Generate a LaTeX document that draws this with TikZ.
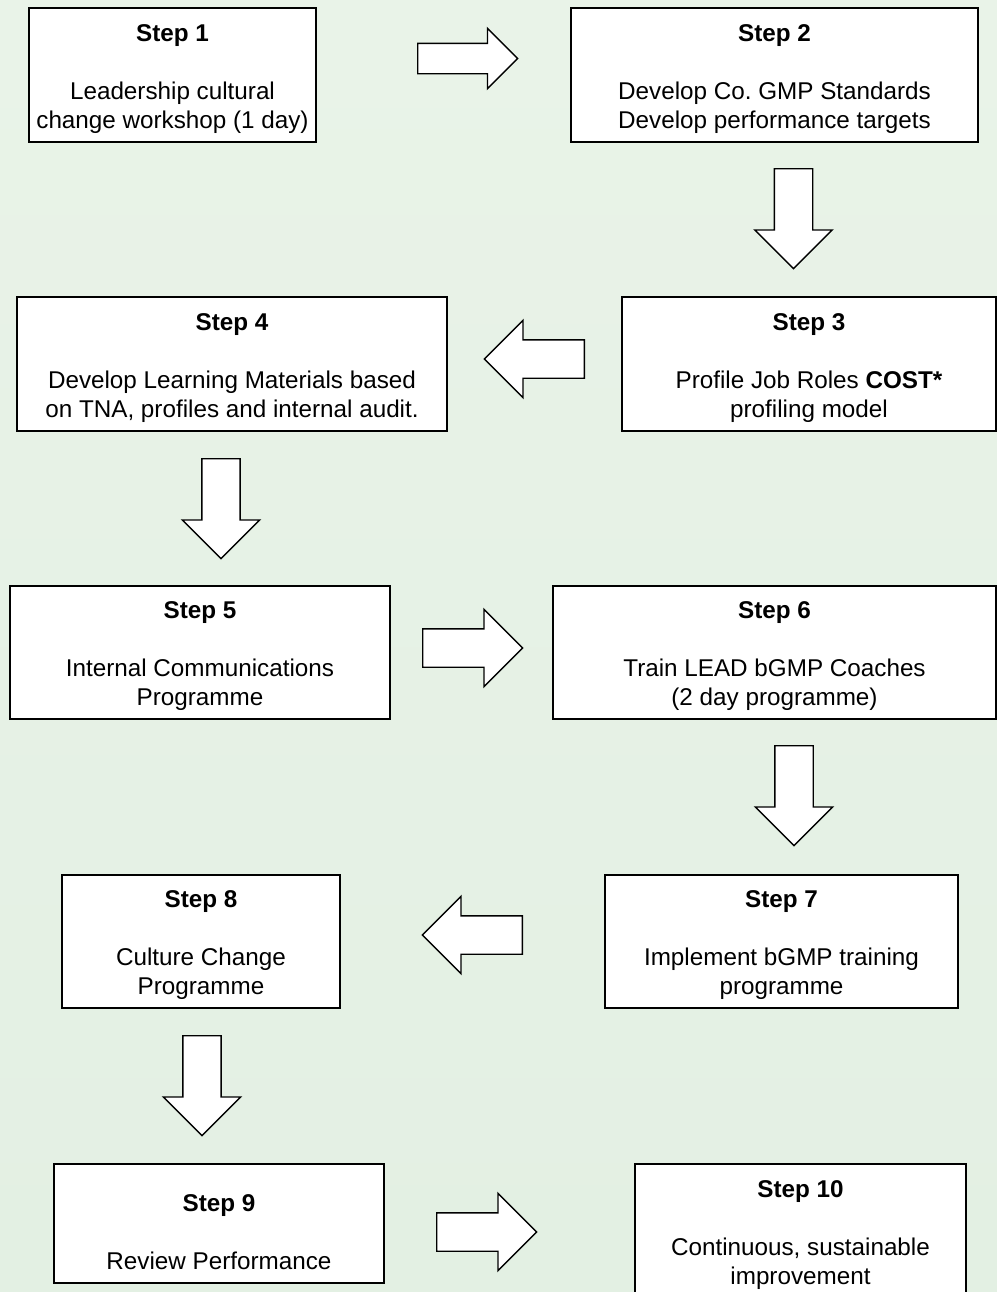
\documentclass[tikz,border=0pt]{standalone}
\usepackage{fontspec}
\setmainfont{Liberation Sans}
\frenchspacing
\usetikzlibrary{shapes.arrows}
\definecolor{bgtop}{HTML}{E9F3E8}
\definecolor{bgmid}{HTML}{CBE4CB}
\definecolor{bgbot}{HTML}{E3F0E3}
\newcommand{\steptitle}[2][14pt]{\rule{0pt}{#1}\textbf{Step #2}\\[16.5pt]}
\tikzset{
  stepbox/.style={draw, line width=1.1pt, fill=white, align=center, inner sep=0pt,
    minimum height=2.68cm, font=\fontsize{13.8}{16.5}\selectfont},
  blockarrow/.style={single arrow, draw, line width=0.8pt, fill=white, inner xsep=0pt,
    inner ysep=0.37cm, minimum width=1.52cm, minimum height=2cm,
    single arrow head extend=0.39cm, single arrow head indent=0pt, anchor=tail}
}
\begin{document}
\begin{tikzpicture}[x=0.02cm, y=-0.02cm]
\useasboundingbox (0,0) rectangle (997,1292);
\clip (0,0) rectangle (997,1292);
\shade[top color=bgtop, middle color=bgmid, bottom color=bgbot] (0,0) rectangle (997,1292);
\node[stepbox, minimum width=5.74cm] (s1) at (172.5,75) {\steptitle{1}Leadership cultural\\change workshop (1 day)};
\node[stepbox, minimum width=8.14cm] (s2) at (774.5,75) {\steptitle{2}Develop Co. GMP Standards\\Develop performance targets};
\node[stepbox, minimum width=7.48cm] (s3) at (809,364) {\steptitle{3}Profile Job Roles \textbf{COST*}\\profiling model};
\node[stepbox, minimum width=8.6cm] (s4) at (232,364) {\steptitle{4}Develop Learning Materials based\\on TNA, profiles and internal audit.};
\node[stepbox, minimum width=7.6cm, minimum height=2.66cm] (s5) at (200,652.5) {\steptitle{5}Internal Communications\\Programme};
\node[stepbox, minimum width=8.86cm, minimum height=2.66cm] (s6) at (774.5,652.5) {\steptitle{6}Train LEAD bGMP Coaches\\(2 day programme)};
\node[stepbox, minimum width=7.06cm, minimum height=2.66cm] (s7) at (781.5,941.5) {\steptitle{7}Implement bGMP training\\programme};
\node[stepbox, minimum width=5.56cm, minimum height=2.66cm] (s8) at (201,941.5) {\steptitle{8}Culture Change\\Programme};
\node[stepbox, minimum width=6.6cm, minimum height=2.38cm] (s9) at (219,1223.5) {\steptitle[19pt]{9}Review Performance};
\node[stepbox, minimum width=6.62cm] (s10) at (800.5,1231) {\steptitle{10}Continuous, sustainable\\improvement};
\node[blockarrow, inner ysep=0.29cm, minimum width=1.18cm, single arrow head extend=0.3cm] (a12) at (417,58.5) {};
\node[blockarrow, rotate=-90] (a23) at (793.5,168) {};
\node[blockarrow, rotate=180] (a34) at (585,359) {};
\node[blockarrow, rotate=-90] (a45) at (221,458) {};
\node[blockarrow] (a56) at (422,648) {};
\node[blockarrow, rotate=-90] (a67) at (794,745) {};
\node[blockarrow, rotate=180] (a78) at (523,935) {};
\node[blockarrow, rotate=-90] (a89) at (202,1035) {};
\node[blockarrow] (a910) at (436,1232) {};
\end{tikzpicture}
\end{document}
